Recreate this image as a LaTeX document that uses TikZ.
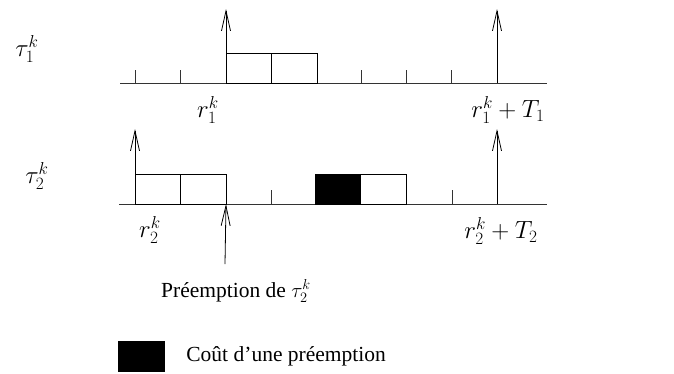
\documentclass[tikz,border=0pt]{standalone}
\usepackage{fontspec}
\setmainfont{Liberation Serif}
\usetikzlibrary{arrows.meta}
\begin{document}
\begin{tikzpicture}[x=1pt,y=-1pt, line width=0.8pt,
  axis/.style={draw=black!80},
  tickmark/.style={draw=black!80},
  job/.style={draw, rectangle, minimum width=45.5pt, minimum height=29.5pt, inner sep=0pt, outer sep=0pt, anchor=south west},
  cost/.style={job, fill=black},
  rel/.style={-{Straight Barb[length=20pt,width=9pt,line width=0.8pt]}},
  lbl/.style={font=\fontsize{21.5}{24}\selectfont, inner sep=0pt},
  mlbl/.style={font=\fontsize{24}{27}\selectfont, inner sep=0pt}]
\useasboundingbox (0,0) rectangle (674,373);
% task 1 timeline
\coordinate (a1s) at (120,83);
\coordinate (a1e) at (547,83);
\draw[axis] (a1s) -- (a1e);
\foreach \x/\n in {135/a,180/b,361/c,406/d,451/e}{
  \coordinate (t1\n) at (\x,83);
  \draw[tickmark] (t1\n) -- ++(0,-13);
}
\node[job] (j11) at (226,83) {};
\node[job] (j12) at (j11.south east) {};
\coordinate (r1) at (226,83);
\coordinate (r1top) at (226,9);
\draw[rel] (r1) -- (r1top);
\coordinate (d1) at (497,83);
\coordinate (d1top) at (497,9);
\draw[rel] (d1) -- (d1top);
% task 2 timeline
\coordinate (a2s) at (119,204);
\coordinate (a2e) at (547,204);
\draw[axis] (a2s) -- (a2e);
\foreach \x/\n in {271/a,406/b,452/c}{
  \coordinate (t2\n) at (\x,204);
  \draw[tickmark] (t2\n) -- ++(0,-14);
}
\node[job, minimum height=30pt] (j21) at (135,204) {};
\node[job, minimum height=30pt] (j22) at (j21.south east) {};
\node[cost, minimum height=30pt] (j23) at (315,204) {};
\node[job, minimum height=30pt] (j24) at (j23.south east) {};
\coordinate (r2) at (135,204);
\coordinate (r2top) at (135,129);
\draw[rel] (r2) -- (r2top);
\coordinate (d2) at (497,204);
\coordinate (d2top) at (497,129);
\draw[rel] (d2) -- (d2top);
\coordinate (pbot) at (225,264);
\draw[rel] (pbot) -- (j22.south east);
% labels
\node[mlbl] (tau1) at (27,49) {$\tau_1^k$};
\node[mlbl] (tau2) at (37,176) {$\tau_2^k$};
\node[mlbl] (lr1) at (208,110) {$r_1^k$};
\node[mlbl] (ld1) at (508,110) {$r_1^k+T_1$};
\node[mlbl] (lr2) at (150,230) {$r_2^k$};
\node[mlbl] (ld2) at (501,231) {$r_2^k+T_2$};
\node[lbl] (pre) at (236,291) {Préemption de $\tau_2^k$};
% legend
\node[fill=black, minimum width=47pt, minimum height=31pt, inner sep=0pt, anchor=north west] (leg) at (118,341) {};
\node[lbl, anchor=west] (legtxt) at (186,356) {Coût d’une préemption};
\end{tikzpicture}
\end{document}
